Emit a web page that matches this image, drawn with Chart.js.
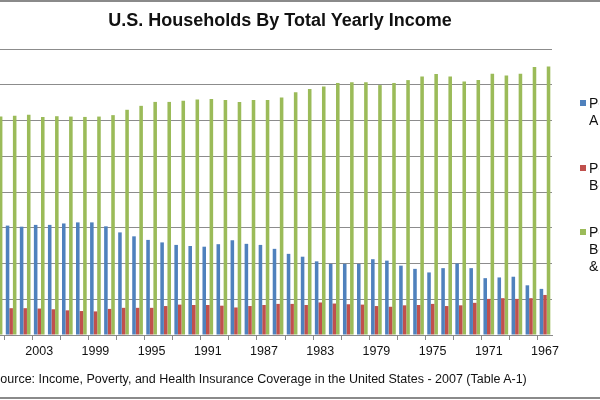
<!DOCTYPE html>
<html>
<head>
<meta charset="utf-8">
<script src="https://cdn.jsdelivr.net/npm/chart.js@4.4.1/dist/chart.umd.min.js"></script>
<style>
  html, body { margin:0; padding:0; width:600px; height:400px; overflow:hidden; background:#fff; }
  body { position:relative; font-family:"Liberation Sans", Arial, sans-serif; color:#111; }
  #wrap { position:absolute; left:-124px; top:0; width:700px; height:400px; }
  #title { position:absolute; left:0; top:10px; width:560px; text-align:center; font-weight:bold; font-size:18px; color:#111; white-space:nowrap; }
  #source { position:absolute; left:-8px; top:372px; font-size:12.5px; white-space:nowrap; color:#111; }
  .frame { position:absolute; left:0; width:600px; height:2px; background:#8a8a8a; }
  #legendClip { position:absolute; left:0; top:0; width:599px; height:400px; overflow:hidden; }
  .lg { position:absolute; left:589px; font-size:14px; line-height:17px; white-space:nowrap; color:#111; }
  .sw { position:absolute; left:580px; width:6px; height:6px; }
</style>
</head>
<body>
<div class="frame" style="top:0"></div>
<div id="wrap"><canvas id="c" width="700" height="400"></canvas></div>
<div id="title">U.S. Households By Total Yearly Income</div>
<div id="source">Source: Income, Poverty, and Health Insurance Coverage in the United States - 2007 (Table A-1)</div>
<div id="legendClip">
  <div class="sw" style="top:100px;background:#4F81BD"></div>
  <div class="lg" style="top:95px">Percent<br>Above $75,000</div>
  <div class="sw" style="top:165px;background:#C0504D"></div>
  <div class="lg" style="top:160px">Percent<br>Below $10,000</div>
  <div class="sw" style="top:229px;background:#9BBB59"></div>
  <div class="lg" style="top:224px">Percent<br>Between $10,000<br>&amp; $75,000</div>
</div>
<div class="frame" style="top:397px"></div>
<script>
const years = ["2007","2006","2005","2004","2003","2002","2001","2000","1999","1998",
  "1997","1996","1995","1994","1993","1992","1991","1990","1989","1988",
  "1987","1986","1985","1984","1983","1982","1981","1980","1979","1978",
  "1977","1976","1975","1974","1973","1972","1971","1970","1969","1968","1967"];

const pctAbove = [31.2,31.0,30.6,30.3,30.8,30.8,31.2,31.5,31.5,30.4,
  28.7,27.6,26.6,25.9,25.2,24.9,24.7,25.4,26.5,25.5,
  25.2,24.1,22.7,21.9,20.6,19.9,19.9,19.9,21.2,20.8,
  19.4,18.5,17.5,18.7,20.0,18.7,15.9,16.1,16.3,13.9,12.9];

const pctBelow = [7.2,7.4,7.5,7.5,7.4,7.2,6.9,6.7,6.6,7.3,
  7.6,7.6,7.6,8.1,8.5,8.4,8.4,8.2,7.7,8.1,
  8.4,8.7,8.7,8.4,9.1,8.8,8.6,8.5,8.1,7.9,
  8.3,8.4,8.7,8.1,8.3,9.0,10.1,10.3,10.1,10.3,11.2];

const pctBetween = [61.3,61.1,61.3,61.6,61.0,61.2,61.1,61.0,61.1,61.5,
  63.0,64.1,65.2,65.2,65.5,65.9,66.0,65.7,65.2,65.7,
  65.7,66.4,67.9,68.8,69.5,70.5,70.7,70.7,69.9,70.5,
  71.3,72.3,73.0,72.3,70.9,71.3,73.1,72.6,73.1,75.0,75.1];

const yTicks = { min: 0, max: 80, step: 10 };

new Chart(document.getElementById('c'), {
  type: 'bar',
  data: {
    labels: years,
    datasets: [
      { label: 'Percent Above $75,000', data: pctAbove, backgroundColor: '#4F81BD' },
      { label: 'Percent Below $10,000', data: pctBelow, backgroundColor: '#C0504D' },
      { label: 'Percent Between $10,000 & $75,000', data: pctBetween, backgroundColor: '#9BBB59' }
    ]
  },
  options: {
    responsive: false,
    animation: false,
    devicePixelRatio: 1,
    datasets: { bar: { categoryPercentage: 0.76, barPercentage: 1.0 } },
    layout: { padding: { left: 0, right: 24, top: 49, bottom: 0 } },
    plugins: { legend: { display: false }, title: { display: false }, tooltip: { enabled: false } },
    scales: {
      x: {
        afterFit: s => { s.height = 65; },
        grid: {
          offset: true,
          drawOnChartArea: false,
          drawTicks: true,
          tickLength: 5,
          color: ctx => (ctx.index % 2 === 0 ? '#8a8a8a' : 'rgba(0,0,0,0)')
        },
        border: { color: '#8a8a8a', width: 1 },
        ticks: {
          autoSkip: false,
          maxRotation: 0,
          padding: 4,
          color: '#111',
          font: { family: '"Liberation Sans", Arial, sans-serif', size: 12.5 },
          callback: function(v, i) { return i % 4 === 0 ? this.getLabelForValue(v) : ''; }
        }
      },
      y: {
        min: yTicks.min, max: yTicks.max,
        afterFit: s => { s.width = 100; },
        grid: { color: '#8c8c8c', lineWidth: 1, drawTicks: false },
        border: { display: false },
        ticks: { stepSize: yTicks.step, callback: v => v + '%', color: '#111',
                 font: { family: '"Liberation Sans", Arial, sans-serif', size: 12 } }
      }
    }
  }
});
</script>
</body>
</html>
